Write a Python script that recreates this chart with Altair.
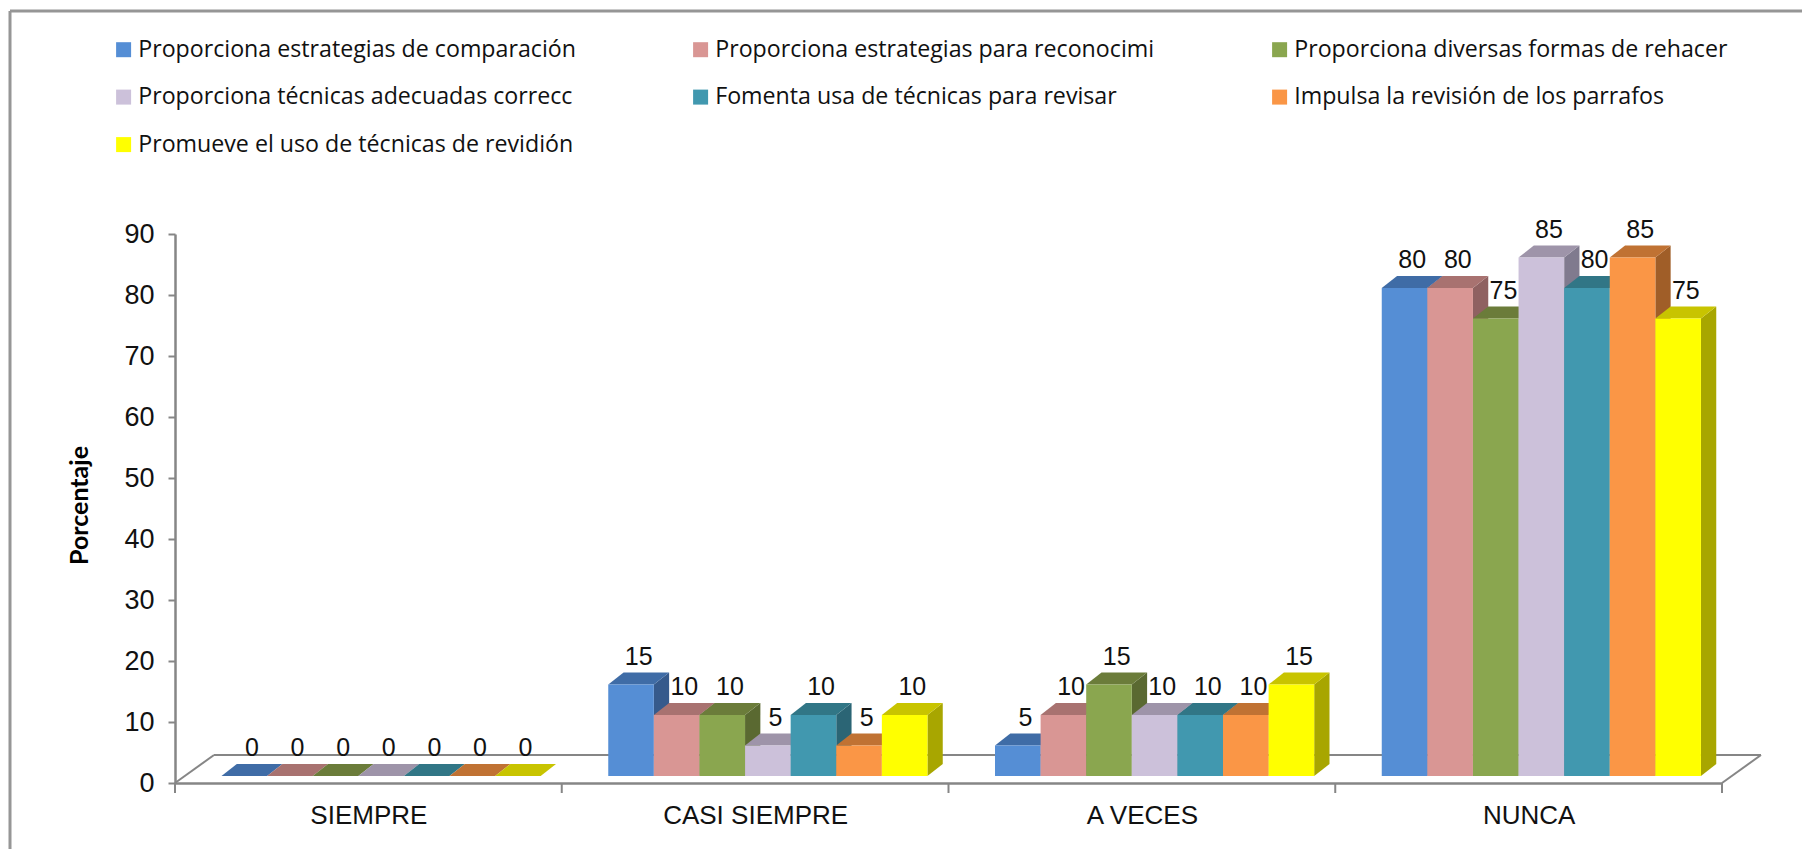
import altair as alt
import pandas as pd

categories = ["SIEMPRE", "CASI SIEMPRE", "A VECES", "NUNCA"]
series = [
    "Proporciona estrategias de comparación",
    "Proporciona estrategias para reconocimi",
    "Proporciona diversas formas de rehacer",
    "Proporciona técnicas adecuadas correcc",
    "Fomenta usa de técnicas para revisar",
    "Impulsa la revisión de los parrafos",
    "Promueve el uso de técnicas de revidión",
]
values = [
    [0, 15, 5, 80],
    [0, 10, 10, 80],
    [0, 10, 15, 75],
    [0, 5, 10, 85],
    [0, 10, 10, 80],
    [0, 5, 10, 85],
    [0, 10, 15, 75],
]
front_colors = ["#558ed5", "#d99694", "#8aa64f", "#ccc1da", "#4198af", "#fa9646", "#ffff00"]
top_colors = ["#3f6ca6", "#a87270", "#6b7c3a", "#9e94a9", "#317686", "#c07233", "#c8c400"]
side_colors = ["#365a8c", "#8f6161", "#5a6931", "#807a8e", "#2b6575", "#a05e28", "#a8a600"]

# Geometry in data units: x unit = one category, y unit = percent.
X_PX = 386.75
Y_PX = 6.1
BAR_W = 45.6 / X_PX
BAR_START = 46.5 / X_PX
BASE = 7 / Y_PX
DX = 15.3 / X_PX
DY = 12 / Y_PX
FLOOR_DX = 39 / X_PX
FLOOR_DY = 28 / Y_PX

fronts, sides, tops = [], [], []
for s, name in enumerate(series):
    for c, cat in enumerate(categories):
        v = values[s][c]
        x0 = c + BAR_START + s * BAR_W
        x1 = x0 + BAR_W
        y1 = BASE + v
        key = f"{s}-{c}"
        fronts.append(dict(series=name, x0=x0, x1=x1, y0=BASE, y1=y1, label=str(v),
                           lx=(x0 + x1) / 2 + DX / 2, ly=y1 + DY))
        sides.append(dict(key=key, fill=side_colors[s], x=x1, y=y1, y2=BASE))
        sides.append(dict(key=key, fill=side_colors[s], x=x1 + DX, y=y1 + DY, y2=BASE + DY))
        tops.append(dict(key=key, fill=top_colors[s], y=y1, x=x0, x2=x1))
        tops.append(dict(key=key, fill=top_colors[s], y=y1 + DY, x=x0 + DX, x2=x1 + DX))

x_scale = alt.Scale(domain=[0, 4], nice=False, zero=False)
y_scale = alt.Scale(domain=[0, 90], nice=False)
GRAY = "#868686"
TEXT = "Liberation Sans"

label_expr = "{" + ",".join(f"'{i + 0.5}':'{c}'" for i, c in enumerate(categories)) + "}[datum.value]"

# Floor outline
floor = pd.DataFrame([
    dict(x=0, y=0, x2=FLOOR_DX, y2=FLOOR_DY),
    dict(x=FLOOR_DX, y=FLOOR_DY, x2=4 + FLOOR_DX, y2=FLOOR_DY),
    dict(x=4, y=0, x2=4 + FLOOR_DX, y2=FLOOR_DY),
])
floor_layer = alt.Chart(floor).mark_rule(color=GRAY, strokeWidth=2).encode(
    x=alt.X("x:Q", scale=x_scale,
            axis=alt.Axis(values=[0.5, 1.5, 2.5, 3.5], labelExpr=label_expr, title=None, grid=False,
                          tickSize=0, domainColor=GRAY, domainWidth=2.5, labelFont=TEXT, labelLimit=400,
                          labelFontSize=26, labelColor="#111111", labelPadding=19)),
    x2="x2:Q",
    y=alt.Y("y:Q", scale=y_scale,
            axis=alt.Axis(values=list(range(0, 91, 10)), title="Porcentaje", grid=False,
                          tickSize=7, tickColor=GRAY, tickWidth=2, domainColor=GRAY, domainWidth=2.5,
                          labelFont=TEXT, labelFontSize=27, labelColor="#111111", labelPadding=14,
                          titleFont="Lato", titleFontSize=25, titleFontWeight="bold", titleColor="#000000",
                          titleAngle=-90, titleX=-83, titleY=271)),
    y2="y2:Q",
)

ticks = alt.Chart(pd.DataFrame({"x": [0, 1, 2, 3, 4]})).mark_rule(color=GRAY, strokeWidth=2).encode(
    x=alt.X("x:Q", scale=x_scale), y=alt.value(549), y2=alt.value(559),
)

side_layer = alt.Chart(pd.DataFrame(sides)).mark_area(orient="vertical", interpolate="linear").encode(
    x=alt.X("x:Q", scale=x_scale),
    y=alt.Y("y:Q", scale=y_scale, stack=None),
    y2="y2:Q",
    fill=alt.Fill("fill:N", scale=None),
    detail="key:N",
)
top_layer = alt.Chart(pd.DataFrame(tops)).mark_area(orient="horizontal", interpolate="linear").encode(
    y=alt.Y("y:Q", scale=y_scale),
    x=alt.X("x:Q", scale=x_scale, stack=None),
    x2="x2:Q",
    fill=alt.Fill("fill:N", scale=None),
    detail="key:N",
)
fdf = pd.DataFrame(fronts)
front_layer = alt.Chart(fdf).mark_rect().encode(
    x=alt.X("x0:Q", scale=x_scale),
    x2="x1:Q",
    y=alt.Y("y0:Q", scale=y_scale),
    y2="y1:Q",
    color=alt.Color("series:N",
                    scale=alt.Scale(domain=series, range=front_colors),
                    sort=series,
                    legend=alt.Legend(orient="none", legendX=-63, legendY=-196, columns=3, direction="horizontal",
                                      title=None, symbolType="square", symbolSize=225, symbolStrokeWidth=0,
                                      labelFont="Open Sans", labelFontSize=23.2, labelColor="#111111",
                                      labelLimit=600, labelOffset=3, columnPadding=113, rowPadding=23.5)),
)
text_layer = alt.Chart(fdf).mark_text(font=TEXT, fontSize=25, color="#111111", baseline="middle", dy=-16).encode(
    x=alt.X("lx:Q", scale=x_scale),
    y=alt.Y("ly:Q", scale=y_scale),
    text="label:N",
)

# Outer frame
frame = alt.Chart(pd.DataFrame({"a": [0]})).mark_rule(color="#969696", strokeWidth=3)
frame_top = frame.encode(x=alt.value(-165), x2=alt.value(1640), y=alt.value(-223))
frame_left = frame.encode(x=alt.value(-165), y=alt.value(-223), y2=alt.value(620))

chart = (
    alt.layer(frame_top, frame_left, floor_layer, ticks, side_layer, top_layer, front_layer, text_layer)
    .resolve_scale(fill="independent")
    .properties(width=1547, height=549, background="white",
                padding={"left": 167, "top": 226, "right": 80, "bottom": 66},
                autosize=alt.AutoSizeParams(type="none"))
    .configure_view(stroke=None)
)
chart.save("out.html", embed_options={"renderer": "svg", "actions": False})
